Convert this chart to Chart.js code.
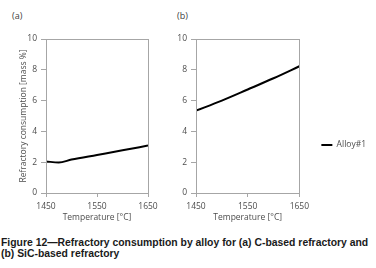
<!DOCTYPE html>
<html lang="en">
<head>
  <meta charset="UTF-8">
  <title>Figure 12 - Refractory consumption</title>
  <script src="https://cdn.jsdelivr.net/npm/chart.js@4.4.0/dist/chart.umd.min.js"></script>
  <style>
    html, body { margin: 0; padding: 0; background: #fff; }
    body { position: relative; width: 376px; height: 268px; overflow: hidden; }
    .wrap { position: absolute; top: 0; }
    .panel { position: absolute; top: 9px; font: 9px "Open Sans", sans-serif; color: #404040; }
    .caption {
      position: absolute; left: 1px; top: 237px; white-space: nowrap;
      font: bold 10.4px "Liberation Sans", Arial, sans-serif; line-height: 11px; color: #1a1a1a;
    }
  </style>
</head>
<body>
  <span class="panel" style="left:12px">(a)</span>
  <span class="panel" style="left:177px">(b)</span>
  <div class="wrap" style="left:0;width:176px;height:225px"><canvas id="chartA"></canvas></div>
  <div class="wrap" style="left:150px;width:226px;height:225px"><canvas id="chartB"></canvas></div>
  <div class="caption">Figure 12—Refractory consumption by alloy for (a) C-based refractory and<br>(b) SiC-based refractory</div>
  <script>
    // data
    const seriesName = 'Alloy#1';
    const tempsA = [1450, 1475, 1500, 1550, 1600, 1650];
    const alloyA = [2.05, 1.98, 2.17, 2.47, 2.77, 3.08];
    const tempsB = [1450, 1500, 1550, 1600, 1650];
    const alloyB = [5.35, 6.0, 6.72, 7.45, 8.23];
    const xTicks = [1450, 1550, 1650];
    const yTicks = [0, 2, 4, 6, 8, 10];

    const axisGrey = '#a6a6a6';
    const textGrey = '#4d4d4d';
    const axisFont = { family: 'Open Sans', size: 8.5 };

    // box round the plot area
    const frame = {
      id: 'frame',
      afterDraw(chart) {
        const a = chart.chartArea, c = chart.ctx;
        c.save();
        c.strokeStyle = axisGrey;
        c.lineWidth = 1;
        c.strokeRect(Math.round(a.left) + 0.5, Math.round(a.top) + 0.5,
                     Math.round(a.right - a.left), Math.round(a.bottom - a.top));
        c.restore();
      }
    };

    function makeChart(id, temps, values, withTitle, withLegend) {
      return new Chart(document.getElementById(id), {
        type: 'line',
        data: {
          datasets: [{
            label: seriesName,
            data: temps.map((t, i) => ({ x: t, y: values[i] })),
            borderColor: '#000',
            backgroundColor: '#000',
            borderWidth: 2,
            pointRadius: 0,
            cubicInterpolationMode: 'monotone'
          }]
        },
        options: {
          responsive: true,
          maintainAspectRatio: false,
          animation: false,
          layout: { padding: { top: 39, right: withLegend ? 0 : 28, left: 0, bottom: 0 } },
          plugins: {
            tooltip: { enabled: false },
            legend: withLegend ? {
              display: true,
              position: 'right',
              maxWidth: 78,
              title: { display: true, text: '', font: { size: 10 }, padding: { top: 7, bottom: 7 } },
              labels: {
                usePointStyle: true,
                pointStyle: 'line',
                pointStyleWidth: 11,
                padding: 22,
                color: textGrey,
                font: { family: 'Open Sans', size: 8.5 }
              }
            } : { display: false }
          },
          scales: {
            x: {
              type: 'linear',
              min: 1450, max: 1650,
              afterBuildTicks: s => { s.ticks = xTicks.map(v => ({ value: v })); },
              afterFit: s => { s.height = 32; },
              ticks: { color: textGrey, font: axisFont, maxRotation: 0, padding: 4, callback: v => String(v) },
              grid: { drawOnChartArea: false, tickLength: 4, color: axisGrey },
              border: { color: axisGrey },
              title: { display: true, text: 'Temperature [°C]', color: textGrey, font: axisFont, padding: { top: 0, bottom: 2 } }
            },
            y: {
              min: 0, max: 10,
              afterBuildTicks: s => { s.ticks = yTicks.map(v => ({ value: v })); },
              afterFit: s => { s.width = 46; },
              ticks: { color: textGrey, font: axisFont, padding: 4, callback: v => String(v) },
              grid: { drawOnChartArea: false, tickLength: 5, color: axisGrey },
              border: { color: axisGrey },
              title: { display: withTitle, text: 'Refractory consumption [mass %]', color: textGrey, font: axisFont, padding: { top: 18, bottom: 0 } }
            }
          }
        },
        plugins: [frame]
      });
    }

    makeChart('chartA', tempsA, alloyA, true, false);
    makeChart('chartB', tempsB, alloyB, false, true);
  </script>
</body>
</html>
